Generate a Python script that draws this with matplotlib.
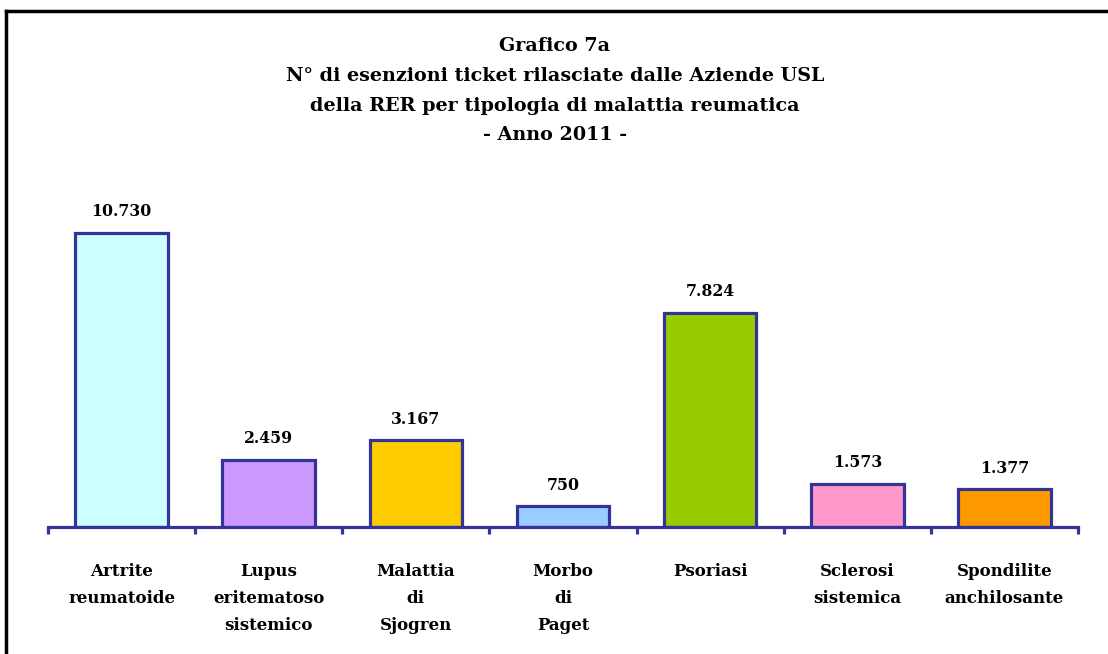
import matplotlib
matplotlib.use("Agg")
import matplotlib.pyplot as plt
from matplotlib.lines import Line2D

categories = ["Artrite\nreumatoide", "Lupus\neritematoso\nsistemico", "Malattia\ndi\nSjogren",
              "Morbo\ndi\nPaget", "Psoriasi", "Sclerosi\nsistemica", "Spondilite\nanchilosante"]
values = [10730, 2459, 3167, 750, 7824, 1573, 1377]
value_labels = ["10.730", "2.459", "3.167", "750", "7.824", "1.573", "1.377"]
colors = ["#CCFFFF", "#CC99FF", "#FFCC00", "#99CCFF", "#99CC00", "#FF99CC", "#FF9900"]
title = ("Grafico 7a\nN° di esenzioni ticket rilasciate dalle Aziende USL\n"
         "della RER per tipologia di malattia reumatica\n- Anno 2011 -")

W, H = 1108, 654
fig = plt.figure(figsize=(W / 100, H / 100), dpi=100)
font = ["DejaVu Serif"]

L, R, B, T = 48, 1078, 527, 180
ax = fig.add_axes([L / W, 1 - B / H, (R - L) / W, (B - T) / H])
ymax = 10730 * (B - T) / (527 - 233)
ax.set_xlim(-0.5, len(values) - 0.5)
ax.set_ylim(0, ymax)
edge = "#333399"
x = range(len(values))
ax.bar(x, values, width=0.63, color=colors, edgecolor=edge, linewidth=2.3, zorder=3)
for i, (v, lab) in enumerate(zip(values, value_labels)):
    ax.annotate(lab, (i, v), xytext=(0, 9), textcoords="offset points", ha="center",
                va="bottom", fontsize=11.3, fontweight="bold", family=font)
for s in ["top", "right", "left"]:
    ax.spines[s].set_visible(False)
ax.spines["bottom"].set_color(edge)
ax.spines["bottom"].set_linewidth(2.3)
ax.spines["bottom"].set_zorder(4)
ax.set_yticks([])
ax.set_xticks([i - 0.5 for i in range(len(values) + 1)])
ax.set_xticklabels([])
ax.tick_params(axis="x", direction="out", length=5, width=2.3, color=edge)
for i, c in enumerate(categories):
    ax.annotate(c, (i, 0), xytext=(0, -26), textcoords="offset points", ha="center",
                va="top", fontsize=12, fontweight="bold", family=font, linespacing=1.76)

fig.text(555 / W, 1 - 37 / H, title, ha="center", va="top", fontsize=13.8,
         fontweight="bold", family=font, linespacing=1.84)

fig.add_artist(Line2D([6 / W, 1], [1 - 11 / H, 1 - 11 / H], transform=fig.transFigure,
                      color="black", linewidth=2.5))
fig.add_artist(Line2D([6 / W, 6 / W], [0, 1 - 11 / H], transform=fig.transFigure,
                      color="black", linewidth=2.5))

fig.savefig("out.png", dpi=100)
